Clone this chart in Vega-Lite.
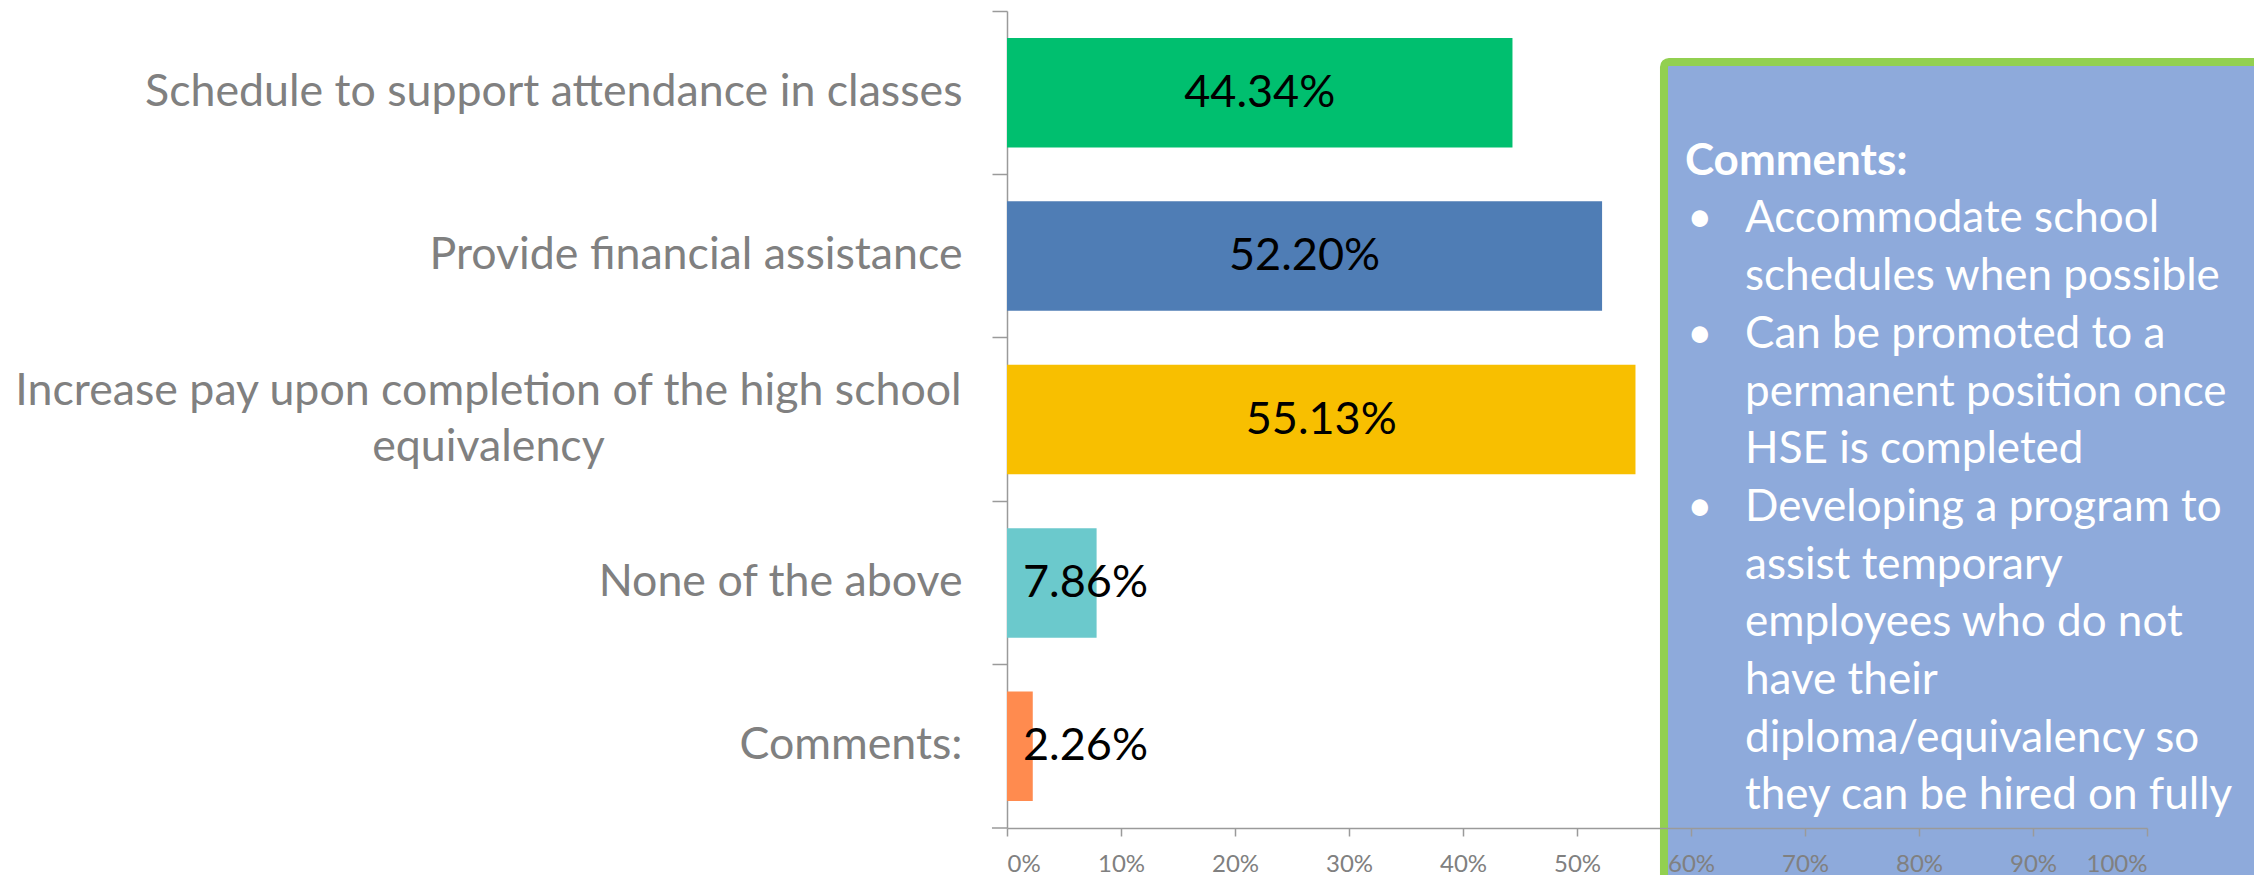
{
  "$schema": "https://vega.github.io/schema/vega-lite/v6.json",
  "autosize": {"type": "none"},
  "width": 1140,
  "height": 817,
  "padding": {"left": 1007, "top": 11, "right": 107, "bottom": 47},
  "background": "white",
  "config": {"view": {"stroke": null}, "font": "Lato"},
  "layer": [
    {
      "data": {"values": [
        {"option": "Schedule to support attendance in classes", "value": 0.4434, "label": "44.34%"},
        {"option": "Provide financial assistance", "value": 0.5220, "label": "52.20%"},
        {"option": "Increase pay upon completion of the high school equivalency", "value": 0.5513, "label": "55.13%"},
        {"option": "None of the above", "value": 0.0786, "label": "7.86%"},
        {"option": "Comments:", "value": 0.0226, "label": "2.26%"}
      ]},
      "resolve": {"scale": {"x": "independent"}},
      "layer": [
        {
          "mark": {"type": "bar", "height": {"band": 0.67}},
          "encoding": {
            "y": {
              "field": "option", "type": "nominal", "sort": null,
              "scale": {"paddingInner": 0, "paddingOuter": 0},
              "axis": {
                "title": null,
                "bandPosition": 0,
                "labelFont": "Lato",
                "labelFontSize": 44.7,
                "labelColor": "#808080",
                "labelLimit": 2000,
                "labelLineHeight": 56,
                "labelBaseline": "middle",
                "labelAlign": {"condition": {"test": "datum.value == 'Increase pay upon completion of the high school equivalency'", "value": "center"}, "value": "right"},
                "labelPadding": {"condition": {"test": "datum.value == 'Increase pay upon completion of the high school equivalency'", "value": 504}, "value": 30},
                "labelOffset": {"condition": {"test": "datum.value == 'Increase pay upon completion of the high school equivalency'", "value": -28}, "value": 0},
                "labelExpr": "datum.value == 'Increase pay upon completion of the high school equivalency' ? ['Increase pay upon completion of the high school', 'equivalency'] : datum.label",
                "tickSize": 15,
                "tickColor": "#9a9a9a",
                "tickWidth": 1.5,
                "domainColor": "#9a9a9a",
                "domainWidth": 1.5,
                "grid": false
              }
            },
            "x": {
              "field": "value", "type": "quantitative",
              "scale": {"domain": [0, 1], "nice": false},
              "axis": {
                "title": null,
                "values": [0, 0.1, 0.2, 0.3, 0.4, 0.5, 0.6, 0.7, 0.8, 0.9, 1],
                "format": ".0%",
                "labelFont": "Lato",
                "labelFontSize": 24,
                "labelColor": "#808080",
                "labelPadding": 16,
                "tickSize": 8,
                "tickColor": "#9a9a9a",
                "tickWidth": 1.5,
                "domainColor": "#9a9a9a",
                "domainWidth": 1.5,
                "grid": false,
                "zindex": 1
              }
            },
            "color": {
              "field": "option", "type": "nominal", "legend": null,
              "scale": {
                "domain": ["Schedule to support attendance in classes", "Provide financial assistance", "Increase pay upon completion of the high school equivalency", "None of the above", "Comments:"],
                "range": ["#00BF6F", "#4F7DB5", "#F8BF00", "#6BC9CC", "#FF8B4F"]
              }
            }
          }
        },
        {
          "transform": [{"filter": "datum.value > 0.2"}],
          "mark": {"type": "text", "font": "Lato", "fontSize": 45, "color": "black", "align": "center", "baseline": "middle"},
          "encoding": {
            "y": {"field": "option", "type": "nominal", "sort": null},
            "x": {"field": "value", "type": "quantitative", "scale": {"domain": [0, 2], "nice": false}, "axis": null},
            "text": {"field": "label"}
          }
        },
        {
          "transform": [{"filter": "datum.value <= 0.2"}],
          "mark": {"type": "text", "font": "Lato", "fontSize": 45, "color": "black", "align": "left", "baseline": "middle", "dx": 16},
          "encoding": {
            "y": {"field": "option", "type": "nominal", "sort": null},
            "x": {"datum": 0, "type": "quantitative", "scale": {"domain": [0, 1], "nice": false}, "axis": null},
            "text": {"field": "label"}
          }
        }
      ]
    },
    {
      "data": {"values": [
        {"heading": "Comments:", "bullet": "•", "body": "Accommodate school\nschedules when possible\nCan be promoted to a\npermanent position once\nHSE is completed\nDeveloping a program to\nassist temporary\nemployees who do not\nhave their\ndiploma/equivalency so\nthey can be hired on fully"}
      ]},
      "layer": [
        {
          "mark": {"type": "rule", "color": "#9a9a9a", "strokeWidth": 1.5},
          "encoding": {
            "x": {"datum": -0.0132, "type": "quantitative", "scale": {"domain": [0, 1], "nice": false}, "axis": null},
            "x2": {"datum": 0},
            "y": {"datum": 0, "type": "quantitative", "scale": {"domain": [0, 1], "nice": false, "zero": false}, "axis": null}
          }
        },
        {
          "mark": {"type": "rect", "fill": "#8EAADB", "stroke": "#92D050", "strokeWidth": 8, "cornerRadius": 5},
          "encoding": {
            "x": {"datum": 0.5763, "type": "quantitative"},
            "x2": {"datum": 1.2},
            "y": {"datum": 0.9376, "type": "quantitative"},
            "y2": {"datum": -0.2}
          }
        },
        {
          "mark": {"type": "text", "font": "Lato", "fontSize": 44, "fontWeight": "bold", "color": "white", "align": "left", "baseline": "alphabetic"},
          "encoding": {
            "x": {"datum": 0.5947, "type": "quantitative"},
            "y": {"datum": 0.7995, "type": "quantitative"},
            "text": {"field": "heading"}
          }
        },
        {
          "mark": {"type": "text", "font": "Lato", "fontSize": 44, "color": "white", "align": "left", "baseline": "alphabetic"},
          "encoding": {
            "x": {"datum": 0.5965, "type": "quantitative"},
            "y": {"datum": 0.7290, "type": "quantitative"},
            "text": {"field": "bullet"}
          }
        },
        {
          "mark": {"type": "text", "font": "Lato", "fontSize": 44, "color": "white", "align": "left", "baseline": "alphabetic"},
          "encoding": {
            "x": {"datum": 0.5965, "type": "quantitative"},
            "y": {"datum": 0.5878, "type": "quantitative"},
            "text": {"field": "bullet"}
          }
        },
        {
          "mark": {"type": "text", "font": "Lato", "fontSize": 44, "color": "white", "align": "left", "baseline": "alphabetic"},
          "encoding": {
            "x": {"datum": 0.5965, "type": "quantitative"},
            "y": {"datum": 0.3759, "type": "quantitative"},
            "text": {"field": "bullet"}
          }
        },
        {
          "mark": {"type": "text", "font": "Lato", "fontSize": 44, "color": "white", "align": "left", "baseline": "alphabetic", "lineBreak": "\n", "lineHeight": 57.7},
          "encoding": {
            "x": {"datum": 0.6474, "type": "quantitative"},
            "y": {"datum": 0.7290, "type": "quantitative"},
            "text": {"field": "body"}
          }
        }
      ]
    }
  ],
  "resolve": {"scale": {"x": "independent", "y": "independent"}}
}
